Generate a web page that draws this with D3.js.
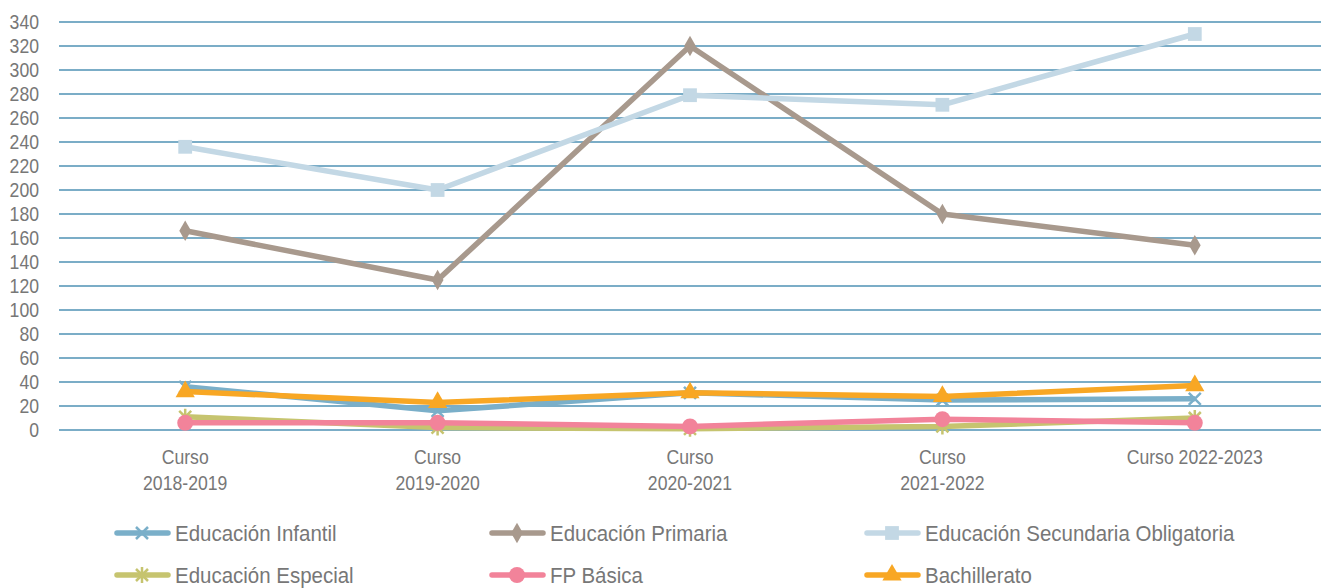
<!DOCTYPE html>
<html lang="es">
<head>
<meta charset="UTF-8" />
<title>Alumnado por curso</title>
<script src="https://d3js.org/d3.v7.min.js"></script>
<style>
  body { margin: 0; background: #fff; }
  text { font-family: "Liberation Sans", Arial, sans-serif; fill: #777; }
</style>
</head>
<body>
<svg id="chart"></svg>
<script>
// categories and values
var cursos = ["Curso 2018-2019", "Curso 2019-2020", "Curso 2020-2021", "Curso 2021-2022", "Curso 2022-2023"];
var cursoLines = [["Curso", "2018-2019"], ["Curso", "2019-2020"], ["Curso", "2020-2021"], ["Curso", "2021-2022"], ["Curso 2022-2023"]];
var yTicks = d3.range(0, 341, 20);

var infantil = [36, 16, 31, 25, 26];
var primaria = [166, 125, 320, 180, 154];
var secundaria = [236, 200, 279, 271, 330];
var especial = [11, 2, 1, 3, 10];
var fpBasica = [6, 6, 3, 9, 6];
var bachillerato = [32, 23, 31, 28, 37];

var seriesNames = ["Educación Infantil", "Educación Primaria", "Educación Secundaria Obligatoria",
                   "Educación Especial", "FP Básica", "Bachillerato"];

var series = [
  { name: seriesNames[0], values: infantil, color: "#7aafc9", marker: "x" },
  { name: seriesNames[1], values: primaria, color: "#a8998d", marker: "diamond" },
  { name: seriesNames[2], values: secundaria, color: "#c3d8e5", marker: "square" },
  { name: seriesNames[3], values: especial, color: "#c6c46f", marker: "star" },
  { name: seriesNames[4], values: fpBasica, color: "#f2839a", marker: "circle" },
  { name: seriesNames[5], values: bachillerato, color: "#f8a724", marker: "triangle" }
];

var width = 1325, height = 588;
var margin = { left: 59, right: 4, top: 22, bottom: 158 };
var narrow = 0.86; // the reference uses a condensed face

var svg = d3.select("#chart").attr("width", width).attr("height", height);

var x = d3.scaleBand().domain(cursos).range([margin.left, width - margin.right]);
var y = d3.scaleLinear().domain([0, 340]).range([height - margin.bottom, margin.top]);

function cx(i) { return x(cursos[i]) + x.bandwidth() / 2; }

// grid lines
svg.append("g").selectAll("line")
  .data(yTicks)
  .enter().append("line")
  .attr("x1", margin.left).attr("x2", width - margin.right)
  .attr("y1", function (d) { return y(d); }).attr("y2", function (d) { return y(d); })
  .attr("stroke", "#7badc7").attr("stroke-width", 2);

// y labels
svg.append("g").selectAll("text")
  .data(yTicks)
  .enter().append("text")
  .attr("transform", function (d) { return "translate(39," + y(d) + ") scale(" + narrow + ",1)"; })
  .attr("dy", "0.36em")
  .attr("text-anchor", "end")
  .style("font-size", "20.5px")
  .text(function (d) { return d; });

// x labels
cursos.forEach(function (d, i) {
  var t = svg.append("text")
    .attr("transform", "translate(" + cx(i) + ",464) scale(" + narrow + ",1)")
    .attr("text-anchor", "middle")
    .style("font-size", "20.5px");
  cursoLines[i].forEach(function (s, j) {
    t.append("tspan").attr("x", 0).attr("dy", j === 0 ? 0 : 26).text(s);
  });
});

function markerPath(type) {
  if (type === "x") return "M-6,-6L6,6M-6,6L6,-6";
  if (type === "star") return "M-6,-6L6,6M-6,6L6,-6M0,-8L0,8";
  if (type === "diamond") return d3.symbol(d3.symbolDiamond, 120)();
  if (type === "square") return d3.symbol(d3.symbolSquare, 190)();
  if (type === "circle") return d3.symbol(d3.symbolCircle, 200)();
  if (type === "triangle") return d3.symbol(d3.symbolTriangle, 160)();
}

function drawMarker(g, type, color, px, py) {
  var stroked = type === "x" || type === "star";
  g.append("path")
    .attr("transform", "translate(" + px + "," + py + ")")
    .attr("d", markerPath(type))
    .attr("fill", stroked ? "none" : color)
    .attr("stroke", color)
    .attr("stroke-width", stroked ? 2.5 : 0);
}

var line = d3.line()
  .x(function (d, i) { return cx(i); })
  .y(function (d) { return y(d); });

series.forEach(function (s) {
  var g = svg.append("g");
  g.append("path")
    .attr("d", line(s.values))
    .attr("fill", "none")
    .attr("stroke", s.color)
    .attr("stroke-width", 5.5)
    .attr("stroke-linejoin", "round");
  s.values.forEach(function (v, i) {
    drawMarker(g, s.marker, s.color, cx(i), y(v));
  });
});

// legend
var legendX = [115, 490, 865];
var legendY = [533, 575];
series.forEach(function (s, i) {
  var lx = legendX[i % 3], ly = legendY[Math.floor(i / 3)];
  var g = svg.append("g");
  g.append("line")
    .attr("x1", lx + 2).attr("x2", lx + 53)
    .attr("y1", ly).attr("y2", ly)
    .attr("stroke", s.color).attr("stroke-width", 5.5).attr("stroke-linecap", "round");
  drawMarker(g, s.marker, s.color, lx + 27, ly);
  g.append("text")
    .attr("transform", "translate(" + (lx + 60) + "," + ly + ") scale(0.91,1)")
    .attr("dy", "0.35em")
    .style("font-size", "22.5px")
    .text(s.name);
});
</script>
</body>
</html>
